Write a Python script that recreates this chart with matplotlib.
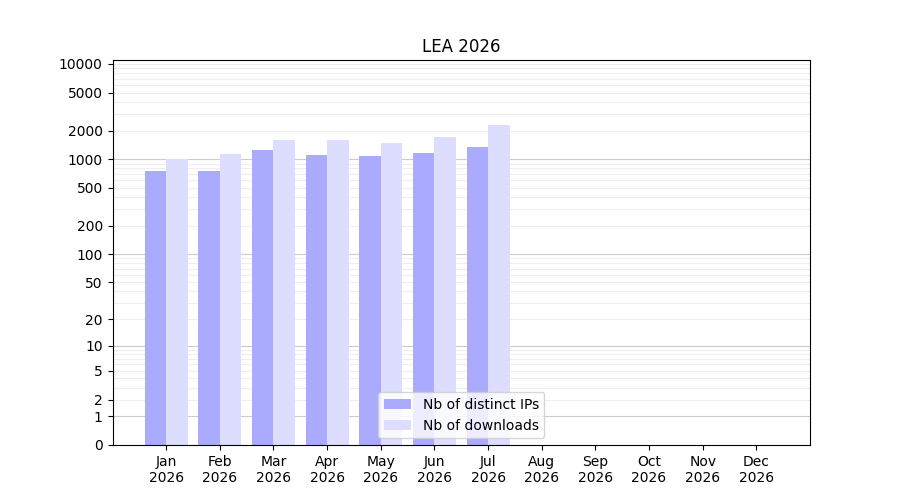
import numpy as np
import matplotlib
matplotlib.use("Agg")
import matplotlib.pyplot as plt

months = ["Jan\n2026","Feb\n2026","Mar\n2026","Apr\n2026","May\n2026","Jun\n2026",
          "Jul\n2026","Aug\n2026","Sep\n2026","Oct\n2026","Nov\n2026","Dec\n2026"]
ips = [750, 750, 1250, 1100, 1070, 1150, 1350]
downloads = [1000, 1120, 1600, 1600, 1480, 1720, 2300]
yticks = [0, 1, 2, 5, 10, 20, 50, 100, 200, 500, 1000, 2000, 5000, 10000]

fig, ax = plt.subplots(figsize=(9, 5), dpi=100)
ax.set_yscale('function', functions=(lambda v: np.log10(1 + np.maximum(v, 0)),
                                     lambda v: 10**v - 1))
x = np.arange(len(ips))
ax.bar(x - 0.2, ips, 0.4, color='#aaaaff', label='Nb of distinct IPs', zorder=2)
ax.bar(x + 0.2, downloads, 0.4, color='#ddddff', label='Nb of downloads', zorder=2)
ax.set_xlim(-1, 12)
ax.set_ylim(0, 11000)
ax.set_xticks(range(12))
ax.set_xticklabels(months)
ax.set_yticks(yticks)
ax.set_yticklabels([str(t) for t in yticks])
minor = []
for d in [1, 10, 100, 1000]:
    minor += [d * k for k in range(2, 10)]
minor.append(10000)
for m in minor:
    ax.axhline(m, color='#eeeeee', lw=0.8, zorder=0)
for m in [1, 10, 100, 1000]:
    ax.axhline(m, color='#cccccc', lw=0.8, zorder=1)
ax.set_title('LEA 2026')
ax.legend(loc='lower center')
fig.savefig('out.png')
